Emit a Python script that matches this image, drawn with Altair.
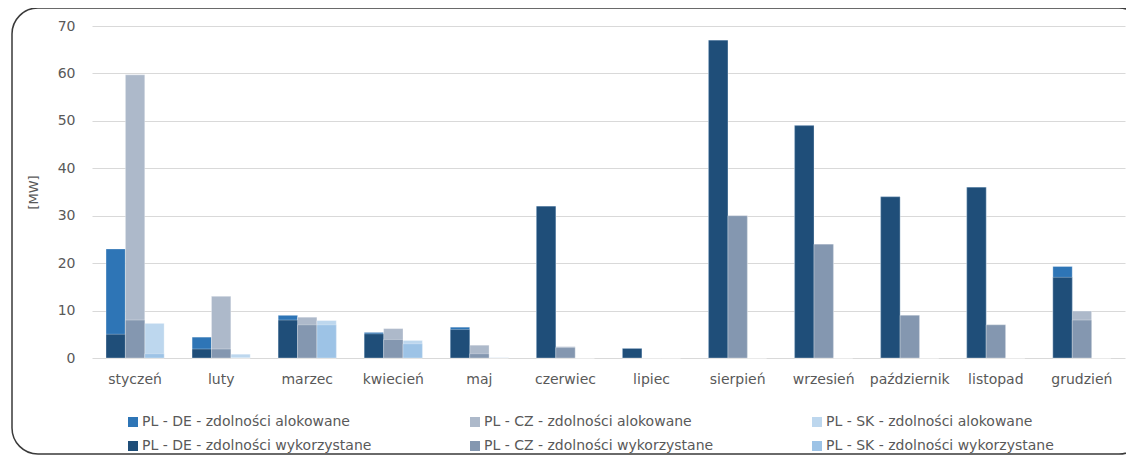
import altair as alt
import pandas as pd

months = ["styczeń", "luty", "marzec", "kwiecień", "maj", "czerwiec", "lipiec",
          "sierpień", "wrzesień", "październik", "listopad", "grudzień"]
links = ["DE", "CZ", "SK"]

de_alloc = [23.0, 4.4, 9.0, 5.4, 6.5, 32.0, 2.0, 67.0, 49.0, 34.0, 36.0, 19.3]
de_used = [5.0, 1.9, 8.0, 5.1, 6.0, 32.0, 2.0, 67.0, 49.0, 34.0, 36.0, 17.0]
cz_alloc = [59.7, 13.0, 8.6, 6.2, 2.7, 2.4, 0.0, 30.0, 24.0, 9.0, 7.0, 9.9]
cz_used = [8.0, 1.9, 7.0, 3.9, 0.9, 2.2, 0.0, 30.0, 24.0, 9.0, 7.0, 8.0]
sk_alloc = [7.3, 0.8, 7.9, 3.7, 0.1, 0.0, 0.0, 0.0, 0.0, 0.0, 0.0, 0.0]
sk_used = [0.9, 0.0, 7.0, 3.0, 0.0, 0.0, 0.0, 0.0, 0.0, 0.0, 0.0, 0.0]

# legend order (filled column by column: 2 rows x 3 columns)
series_names = [
    "PL - DE - zdolności alokowane",
    "PL - DE - zdolności wykorzystane",
    "PL - CZ - zdolności alokowane",
    "PL - CZ - zdolności wykorzystane",
    "PL - SK - zdolności alokowane",
    "PL - SK - zdolności wykorzystane",
]
series_colors = ["#2E75B6", "#1F4E79", "#ADB9CA", "#8497B0", "#BDD7EE", "#9DC3E6"]

alloc_rows = []
used_rows = []
for i, m in enumerate(months):
    for link, a, u in (("DE", de_alloc, de_used), ("CZ", cz_alloc, cz_used), ("SK", sk_alloc, sk_used)):
        alloc_rows.append({"month": m, "link": link, "value": a[i],
                           "series": f"PL - {link} - zdolności alokowane"})
        used_rows.append({"month": m, "link": link, "value": u[i],
                          "series": f"PL - {link} - zdolności wykorzystane"})
alloc_df = pd.DataFrame(alloc_rows)
used_df = pd.DataFrame(used_rows)

FONT = "DejaVu Sans"
GREY = "#595959"

x_enc = alt.X("month:N", sort=months, title=None,
              scale=alt.Scale(paddingInner=0.325, paddingOuter=0.163),
              axis=alt.Axis(labelAngle=0, ticks=False, domain=False, labelPadding=14,
                            labelFontSize=14, labelColor=GREY, labelFont=FONT))
xo_enc = alt.XOffset("link:N", sort=links, scale=alt.Scale(domain=links, paddingInner=0, paddingOuter=0))
y_enc = alt.Y("value:Q", title="[MW]",
              scale=alt.Scale(domain=[0, 70]),
              axis=alt.Axis(values=list(range(0, 71, 10)), ticks=False, domain=False,
                            labelPadding=17, labelFontSize=14, labelColor=GREY, labelFont=FONT,
                            titleFontSize=13, titleColor=GREY, titleFont=FONT,
                            titleFontWeight="normal", titlePadding=17,
                            gridColor="#D9D9D9", gridWidth=1.2))
color_enc = alt.Color("series:N",
                      scale=alt.Scale(domain=series_names, range=series_colors),
                      legend=alt.Legend(title=None, orient="none", legendX=34, legendY=389,
                                        columns=3, symbolType="square", symbolSize=100,
                                        symbolStrokeWidth=0, labelFontSize=14,
                                        labelColor=GREY, labelFont=FONT, labelOffset=2,
                                        columnPadding=96, rowPadding=10, labelLimit=400,
                                        gridAlign="all", padding=0))

alloc = alt.Chart(alloc_df).mark_bar(stroke="white", strokeWidth=0.5, strokeOpacity=0.6).encode(
    x=x_enc, xOffset=xo_enc, y=y_enc, color=color_enc)
used = alt.Chart(used_df).mark_bar(stroke="white", strokeWidth=0.5, strokeOpacity=0.6).encode(
    x=x_enc, xOffset=xo_enc, y=y_enc, color=color_enc)

frame = alt.Chart(pd.DataFrame({"k": [0]})).mark_rect(
    fillOpacity=0, stroke="#3a3a3a", strokeWidth=1.5, cornerRadius=26).encode(
    x=alt.value(-80), x2=alt.value(1053), y=alt.value(-18), y2=alt.value(428))

chart = alt.layer(frame, alloc, used).properties(
    width=1033, height=332,
    autosize=alt.AutoSizeParams(type="none"),
    padding={"left": 84, "top": 18, "right": 1, "bottom": 98},
).configure(font=FONT).configure_view(stroke=None)

chart.save("out.html", embed_options={"renderer": "svg", "actions": False})
